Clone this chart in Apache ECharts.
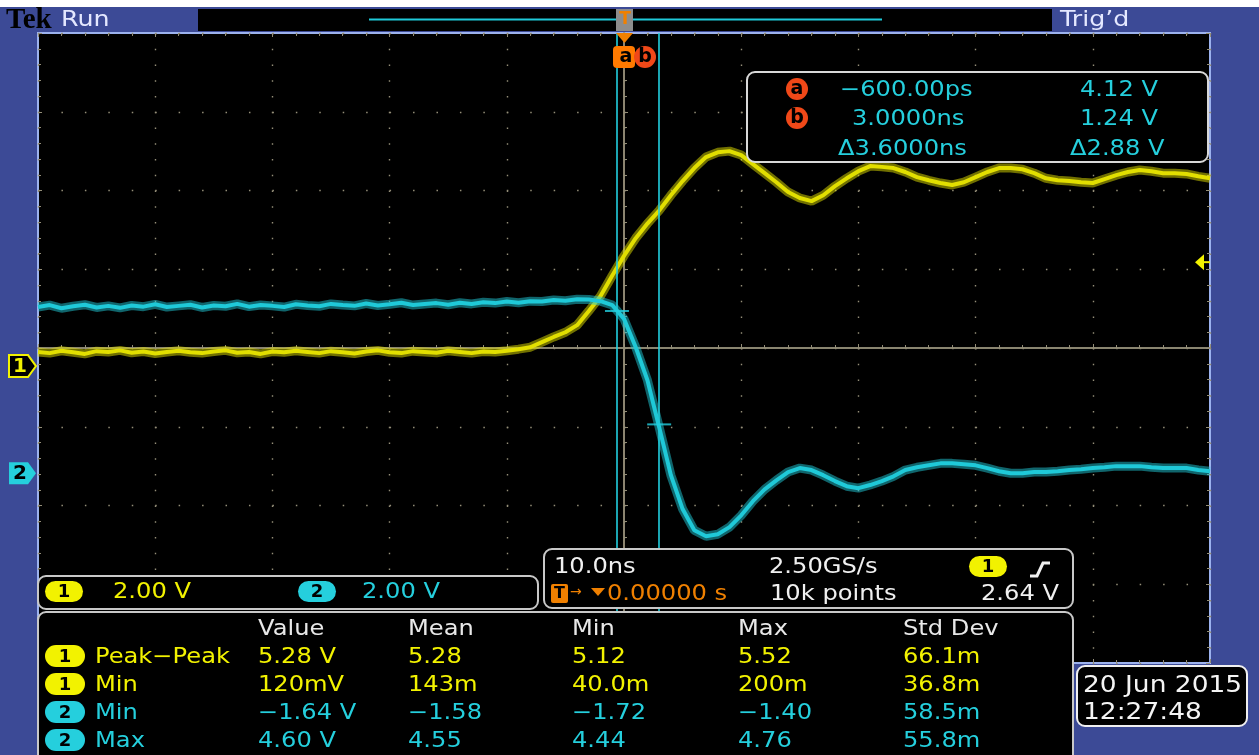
<!DOCTYPE html>
<html>
<head>
<meta charset="utf-8">
<script src="https://cdn.jsdelivr.net/npm/echarts@6/dist/echarts.min.js"></script>
<style>
html, body { margin: 0; padding: 0; background: #fff; }
#scope { width: 1259px; height: 755px; }
</style>
</head>
<body>
<div id="scope"></div>
<script>
// time axis in ns, 10 ns/div
const timeNs = [
  -50, -49, -48, -47, -46, -45, -44, -43, -42, -41, -40, -39, -38, -37, -36, -35, -34, -33, -32, -31,
  -30, -29, -28, -27, -26, -25, -24, -23, -22, -21, -20, -19, -18, -17, -16, -15, -14, -13, -12, -11,
  -10, -9, -8, -7, -6, -5, -4, -3, -2, -1, 0, 1, 2, 3, 4, 5, 6, 7, 8, 9,
  10, 11, 12, 13, 14, 15, 16, 17, 18, 19, 20, 21, 22, 23, 24, 25, 26, 27, 28, 29,
  30, 31, 32, 33, 34, 35, 36, 37, 38, 39, 40, 41, 42, 43, 44, 45, 46, 47, 48, 49, 50
];
// channel 1 (yellow), volts
const ch1Volts = [
  0.36, 0.33, 0.39, 0.35, 0.31, 0.38, 0.36, 0.40, 0.34, 0.37, 0.32, 0.36, 0.39, 0.35, 0.33, 0.37, 0.40, 0.34, 0.36, 0.31,
  0.37, 0.35, 0.39, 0.36, 0.33, 0.38, 0.35, 0.32, 0.37, 0.40, 0.35, 0.33, 0.38, 0.36, 0.34, 0.39, 0.36, 0.33, 0.37, 0.36,
  0.39, 0.43, 0.48, 0.61, 0.74, 0.86, 1.04, 1.40, 1.78, 2.30, 2.80, 3.25, 3.62, 3.95, 4.34, 4.70, 5.03, 5.31, 5.43, 5.46,
  5.36, 5.13, 4.90, 4.67, 4.42, 4.27, 4.19, 4.34, 4.57, 4.77, 4.95, 5.08, 5.06, 5.03, 4.93, 4.80, 4.72, 4.65, 4.60, 4.67,
  4.80, 4.93, 5.03, 5.03, 5.00, 4.90, 4.77, 4.72, 4.70, 4.67, 4.65, 4.75, 4.85, 4.93, 4.98, 4.95, 4.90, 4.90, 4.88, 4.82, 4.77
];
// channel 2 (cyan), volts
const ch2Volts = [
  4.22, 4.27, 4.19, 4.24, 4.28, 4.21, 4.25, 4.20, 4.26, 4.23, 4.29, 4.22, 4.25, 4.28, 4.21, 4.26, 4.24, 4.30, 4.23, 4.27,
  4.25, 4.22, 4.29, 4.26, 4.24, 4.30, 4.27, 4.25, 4.31, 4.26, 4.29, 4.33, 4.27, 4.30, 4.32, 4.28, 4.33, 4.30, 4.34, 4.32,
  4.36, 4.33, 4.37, 4.36, 4.40, 4.38, 4.42, 4.41, 4.37, 4.27, 3.92, 3.20, 2.36, 1.17, -0.05, -0.91, -1.45, -1.60, -1.55, -1.37,
  -1.07, -0.71, -0.41, -0.18, 0.03, 0.13, 0.08, -0.05, -0.20, -0.33, -0.38, -0.30, -0.20, -0.08, 0.08, 0.15, 0.20, 0.25, 0.25, 0.23,
  0.20, 0.13, 0.05, 0.00, 0.00, 0.03, 0.03, 0.05, 0.08, 0.10, 0.13, 0.15, 0.18, 0.18, 0.18, 0.15, 0.13, 0.13, 0.13, 0.08, 0.05
];
const cursorTimes = [-0.6, 3.0];
const cursorVolts = [4.12, 1.24];
const trigLevel = 2.64;
const voltsPerDiv = [2, 2];
const groundDiv = [-0.23, -1.59];   // channel ground marker, divisions from centre

const measHeaders = ['Value', 'Mean', 'Min', 'Max', 'Std Dev'];
const measChannels = [1, 1, 2, 2];
const measNames = ['Peak\u2212Peak', 'Min', 'Min', 'Max'];
const measValues = [
  ['5.28 V', '5.28', '5.12', '5.52', '66.1m'],
  ['120mV', '143m', '40.0m', '200m', '36.8m'],
  ['\u22121.64 V', '\u22121.58', '\u22121.72', '\u22121.40', '58.5m'],
  ['4.60 V', '4.55', '4.44', '4.76', '55.8m']
];

const YEL = '#f2f200';
const CYA = '#25cfdd';
const TRACE_Y = '#e2df00';
const TRACE_C = '#1fc9d8';
const GRAT = '#948e78';
const FONT = '"DejaVu Sans", sans-serif';

const chart = echarts.init(document.getElementById('scope'));

function chAxis(i) {
  return {
    type: 'value', show: false, gridIndex: 0,
    min: (-4 - groundDiv[i]) * voltsPerDiv[i],
    max: (4 - groundDiv[i]) * voltsPerDiv[i]
  };
}
function edgeAxis(pos, isX) {
  const a = {
    type: 'value', position: pos,
    axisLine: { show: false, onZero: false },
    axisTick: { show: true, inside: true, length: 4, lineStyle: { color: GRAT } },
    minorTick: { show: true, splitNumber: 5, length: 3, lineStyle: { color: GRAT } },
    axisLabel: { show: false }, splitLine: { show: false }
  };
  if (isX) { a.min = -50; a.max = 50; a.interval = 10; }
  else { a.min = -4; a.max = 4; a.interval = 1; }
  return a;
}
function centerAxis(isX, inside, split) {
  const a = {
    type: 'value',
    axisLine: { show: true, onZero: true, onZeroAxisIndex: 0, lineStyle: { color: GRAT, width: 1.5 } },
    axisTick: { show: true, inside: inside, length: 4, lineStyle: { color: GRAT } },
    minorTick: { show: true, splitNumber: 5, length: 3, lineStyle: { color: GRAT } },
    axisLabel: { show: false },
    splitLine: { show: split, lineStyle: { color: GRAT, width: 1.4, type: isX ? [1.5, 14.25] : [1.5, 21.94] } }
  };
  if (isX) { a.min = -50; a.max = 50; a.interval = 10; }
  else { a.min = -4; a.max = 4; a.interval = 1; }
  return a;
}

const ch1Data = timeNs.map((t, i) => [t, ch1Volts[i]]);
const ch2Data = timeNs.map((t, i) => [t, ch2Volts[i]]);

chart.setOption({
  animation: false,
  backgroundColor: '#3c4a96',
  grid: {
    left: 38, top: 33, width: 1172, height: 630,
    show: true, backgroundColor: '#000', borderColor: '#9cb2ee', borderWidth: 2
  },
  xAxis: [centerAxis(true, true, true), centerAxis(true, false, false), edgeAxis('top', true), edgeAxis('bottom', true)],
  yAxis: [centerAxis(false, true, true), centerAxis(false, false, false), chAxis(0), chAxis(1), edgeAxis('left', false), edgeAxis('right', false)],
  series: [
    { type: 'line', data: ch1Data, yAxisIndex: 2, showSymbol: false, silent: true, z: 3,
      lineStyle: { color: TRACE_Y, width: 9, opacity: 0.5 } },
    { type: 'line', data: ch1Data, yAxisIndex: 2, showSymbol: false, silent: true, z: 4,
      lineStyle: { color: TRACE_Y, width: 4 } },
    { type: 'line', data: ch2Data, yAxisIndex: 3, showSymbol: false, silent: true, z: 5,
      lineStyle: { color: TRACE_C, width: 9, opacity: 0.5 } },
    { type: 'line', data: ch2Data, yAxisIndex: 3, showSymbol: false, silent: true, z: 6,
      lineStyle: { color: TRACE_C, width: 4 },
      markLine: {
        silent: true, symbol: 'none', label: { show: false },
        lineStyle: { color: '#22d0e0', width: 1.6, type: 'solid', opacity: 1 },
        data: cursorTimes.map(t => ({ xAxis: t }))
      } },
    { type: 'scatter', yAxisIndex: 3, silent: true, z: 7,
      data: cursorTimes.map((t, i) => [t, cursorVolts[i]]),
      symbol: 'rect', symbolSize: [24, 2], itemStyle: { color: '#22d0e0' } }
  ]
});

// ---- screen furniture (panels, readouts) ----
function txt(x, y, s, color, size, extra) {
  return Object.assign({
    type: 'text', x: x, y: y + 2, scaleX: 1.15, z: 120,
    style: { text: s, fill: color, font: (size || 21) + 'px ' + FONT, align: 'left', verticalAlign: 'middle' }
  }, extra || {});
}
function box(x, y, w, h, stroke) {
  return { type: 'rect', z: 110, shape: { x: x, y: y, width: w, height: h, r: 8 },
    style: { fill: '#000', stroke: stroke || '#c8c8c8', lineWidth: 2 } };
}
function pill(x, y, w, h, color, label) {
  return [
    { type: 'rect', z: 115, shape: { x: x, y: y, width: w, height: h, r: h / 2 }, style: { fill: color } },
    { type: 'text', z: 120, x: x + w / 2, y: y + h / 2 + 1,
      style: { text: label, fill: '#000', font: 'bold 18px ' + FONT, align: 'center', verticalAlign: 'middle' } }
  ];
}

const g = [];
const cx = chart.convertToPixel({ xAxisIndex: 0 }, 0);
const right = chart.convertToPixel({ xAxisIndex: 0 }, 50);

// top strip
g.push({ type: 'rect', z: 100, shape: { x: 0, y: 0, width: 1259, height: 7 }, style: { fill: '#fff' } });
g.push({ type: 'text', z: 120, x: 6, y: 21,
  style: { text: 'Tek', fill: '#000', font: 'bold 29px "Liberation Serif", serif', verticalAlign: 'middle' } });
g.push(txt(61, 18, 'Run', '#e4e8ff', 22));
g.push(txt(1060, 18, 'Trig\u2019d', '#e4e8ff', 22));
g.push({ type: 'rect', z: 105, shape: { x: 198, y: 9, width: 854, height: 22 }, style: { fill: '#000' } });
g.push({ type: 'line', z: 106, shape: { x1: 369, y1: 19.5, x2: 882, y2: 19.5 }, style: { stroke: TRACE_C, lineWidth: 2 } });
g.push({ type: 'rect', z: 107, shape: { x: cx - 8, y: 9, width: 17, height: 22 }, style: { fill: '#8d8d8d' } });
g.push({ type: 'text', z: 120, x: cx + 1, y: 20,
  style: { text: 'T', fill: '#f08000', font: 'bold 17px ' + FONT, align: 'center', verticalAlign: 'middle' } });
g.push({ type: 'polygon', z: 120, shape: { points: [[cx - 8, 33], [cx + 9, 33], [cx + 0.5, 43]] }, style: { fill: '#f08000' } });
// a/b cursor badge
g.push({ type: 'rect', z: 115, shape: { x: cx - 11, y: 46, width: 22, height: 22, r: 4 }, style: { fill: '#ff7a00' } });
g.push({ type: 'circle', z: 116, shape: { cx: cx + 21, cy: 57, r: 11 }, style: { fill: '#f04818' } });
g.push({ type: 'text', z: 120, x: cx + 2, y: 57, style: { text: 'a', fill: '#000', font: 'bold 19px ' + FONT, align: 'center', verticalAlign: 'middle' } });
g.push({ type: 'text', z: 120, x: cx + 21, y: 57, style: { text: 'b', fill: '#000', font: 'bold 19px ' + FONT, align: 'center', verticalAlign: 'middle' } });

// channel ground markers
const gy1 = chart.convertToPixel({ yAxisIndex: 2 }, 0);
const gy2 = chart.convertToPixel({ yAxisIndex: 3 }, 0);
g.push({ type: 'polygon', z: 115, shape: { points: [[9, gy1 - 11], [28, gy1 - 11], [36, gy1], [28, gy1 + 11], [9, gy1 + 11]] },
  style: { fill: '#000', stroke: YEL, lineWidth: 2 } });
g.push({ type: 'text', z: 120, x: 20, y: gy1 + 1, style: { text: '1', fill: YEL, font: 'bold 20px ' + FONT, align: 'center', verticalAlign: 'middle' } });
g.push({ type: 'polygon', z: 115, shape: { points: [[9, gy2 - 11], [28, gy2 - 11], [36, gy2], [28, gy2 + 11], [9, gy2 + 11]] },
  style: { fill: CYA } });
g.push({ type: 'text', z: 120, x: 20, y: gy2 + 1, style: { text: '2', fill: '#000', font: 'bold 20px ' + FONT, align: 'center', verticalAlign: 'middle' } });
// trigger level arrow
const ty = chart.convertToPixel({ yAxisIndex: 2 }, trigLevel);
g.push({ type: 'polygon', z: 115, shape: { points: [[right - 15, ty], [right - 6, ty - 8], [right - 6, ty + 8]] }, style: { fill: YEL } });
g.push({ type: 'line', z: 115, shape: { x1: right - 7, y1: ty, x2: right, y2: ty }, style: { stroke: YEL, lineWidth: 2 } });

// cursor readout
g.push(box(747, 72, 461, 90, '#d8d8d8'));
g.push({ type: 'circle', z: 115, shape: { cx: 797, cy: 89, r: 11 }, style: { fill: '#f04818' } });
g.push({ type: 'circle', z: 115, shape: { cx: 797, cy: 118, r: 11 }, style: { fill: '#f04818' } });
g.push({ type: 'text', z: 120, x: 797, y: 89, style: { text: 'a', fill: '#000', font: 'bold 19px ' + FONT, align: 'center', verticalAlign: 'middle' } });
g.push({ type: 'text', z: 120, x: 797, y: 118, style: { text: 'b', fill: '#000', font: 'bold 19px ' + FONT, align: 'center', verticalAlign: 'middle' } });
g.push(txt(840, 89, '\u2212600.00ps', CYA));
g.push(txt(1080, 89, '4.12 V', CYA));
g.push(txt(852, 118, '3.0000ns', CYA));
g.push(txt(1080, 118, '1.24 V', CYA));
g.push(txt(838, 148, '\u03943.6000ns', CYA));
g.push(txt(1070, 148, '\u03942.88 V', CYA));

// timebase / trigger panel
g.push(box(544, 549, 529, 59));
g.push(txt(554, 566, '10.0ns', '#f0f0f0'));
g.push(txt(769, 566, '2.50GS/s', '#f0f0f0'));
g.push(...pill(969, 556, 38, 21, YEL, '1'));
g.push({ type: 'polyline', z: 120, shape: { points: [[1030, 576], [1037, 576], [1043, 563], [1050, 563]] },
  style: { stroke: '#f0f0f0', lineWidth: 3, fill: null } });
g.push({ type: 'rect', z: 115, shape: { x: 551, y: 584, width: 17, height: 19, r: 2 }, style: { fill: '#f08000' } });
g.push({ type: 'text', z: 120, x: 559.5, y: 594, style: { text: 'T', fill: '#000', font: 'bold 16px ' + FONT, align: 'center', verticalAlign: 'middle' } });
g.push({ type: 'text', z: 120, x: 570, y: 592, style: { text: '\u2192', fill: '#f08000', font: '14px ' + FONT, verticalAlign: 'middle' } });
g.push({ type: 'polygon', z: 120, shape: { points: [[591, 588], [605, 588], [598, 596]] }, style: { fill: '#f08000' } });
g.push(txt(607, 593, '0.00000 s', '#f08000'));
g.push(txt(770, 593, '10k points', '#f0f0f0'));
g.push(txt(981, 593, '2.64 V', '#f0f0f0'));

// vertical scale panel
g.push(box(38, 576, 500, 33));
g.push(...pill(45, 581, 38, 21, YEL, '1'));
g.push(txt(113, 591, '2.00 V', YEL));
g.push(...pill(298, 581, 38, 21, CYA, '2'));
g.push(txt(362, 591, '2.00 V', CYA));

// measurements panel
g.push(box(38, 612, 1035, 160));
const colX = [258, 408, 572, 738, 903];
const rowY = [656, 684, 712, 740];
measHeaders.forEach((h, j) => g.push(txt(colX[j], 628, h, '#e8e8e8')));
measValues.forEach((row, i) => {
  const col = measChannels[i] === 1 ? YEL : CYA;
  g.push(...pill(45, rowY[i] - 11, 40, 22, col, String(measChannels[i])));
  g.push(txt(95, rowY[i], measNames[i], col));
  row.forEach((v, j) => g.push(txt(colX[j], rowY[i], v, col)));
});

// date box
g.push(box(1077, 666, 170, 60, '#f0f0f0'));
g.push(txt(1083, 684, '20 Jun 2015', '#f4f4f4', 23));
g.push(txt(1083, 711, '12:27:48', '#f4f4f4', 23));

chart.setOption({ graphic: g });
</script>
</body>
</html>
